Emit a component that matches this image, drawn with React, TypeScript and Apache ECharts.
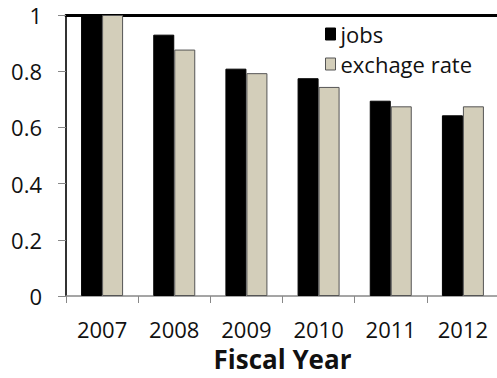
import React, { useEffect, useRef } from "react";
import * as echarts from "echarts";

const categories = ["2007", "2008", "2009", "2010", "2011", "2012"];
const jobs = [1.0, 0.93, 0.809, 0.775, 0.695, 0.643];
const exchangeRate = [1.0, 0.877, 0.793, 0.744, 0.675, 0.675];
const yTicks = [0, 0.2, 0.4, 0.6, 0.8, 1];

const FONT = "'Open Sans', 'Noto Sans', sans-serif";

export default function App() {
  const ref = useRef<HTMLDivElement>(null);
  useEffect(() => {
    document.body.style.margin = "0";
    const chart = echarts.init(ref.current!, null, { renderer: "svg" });
    chart.setOption({
      animation: false,
      backgroundColor: "#ffffff",
      textStyle: { fontFamily: FONT },
      grid: { left: 66, right: -2, top: 15, bottom: 82, containLabel: false, outerBoundsMode: "none" },
      legend: {
        orient: "vertical",
        left: 320,
        top: 17,
        icon: "rect",
        itemWidth: 10,
        itemHeight: 12,
        itemGap: 6,
        textStyle: { fontFamily: FONT, fontSize: 22, color: "#111", lineHeight: 24 },
        data: [
          { name: "jobs", itemStyle: { color: "#000", borderColor: "#000", borderWidth: 1 } },
          { name: "exchage rate", itemStyle: { color: "#d3ceba", borderColor: "#555", borderWidth: 1 } },
        ],
      },
      xAxis: [
        {
          type: "category",
          data: categories,
          position: "bottom",
          axisLine: { show: true, lineStyle: { color: "#888", width: 1.5 } },
          axisTick: { show: true, length: 7, lineStyle: { color: "#888", width: 1 } },
          axisLabel: { fontFamily: FONT, fontSize: 22, color: "#111", margin: 22 },
          name: "Fiscal Year",
          nameLocation: "middle",
          nameGap: 50,
          nameTextStyle: { fontFamily: FONT, fontSize: 26, fontWeight: "bold", color: "#111", lineHeight: 26 },
        },
        {
          type: "category",
          data: categories,
          position: "top",
          axisLine: { show: true, lineStyle: { color: "#000", width: 3 } },
          axisTick: { show: false },
          axisLabel: { show: false },
        },
      ],
      yAxis: {
        type: "value",
        min: yTicks[0],
        max: yTicks[yTicks.length - 1],
        interval: 0.2,
        axisLine: { show: true, lineStyle: { color: "#333", width: 2 } },
        axisTick: { show: true, length: 8, lineStyle: { color: "#888", width: 1 } },
        axisLabel: { fontFamily: FONT, fontSize: 22, color: "#111", margin: 24 },
        splitLine: { show: false },
      },
      series: [
        {
          name: "jobs",
          type: "bar",
          xAxisIndex: 0,
          data: jobs,
          barWidth: 21,
          barGap: "0%",
          itemStyle: { color: "#000", borderColor: "#000", borderWidth: 1 },
        },
        {
          name: "exchage rate",
          type: "bar",
          xAxisIndex: 0,
          data: exchangeRate,
          barWidth: 21,
          barGap: "0%",
          itemStyle: { color: "#d3ceba", borderColor: "#555", borderWidth: 1 },
        },
      ],
    });
    return () => chart.dispose();
  }, []);
  return <div ref={ref} style={{ width: 497, height: 378 }} />;
}
